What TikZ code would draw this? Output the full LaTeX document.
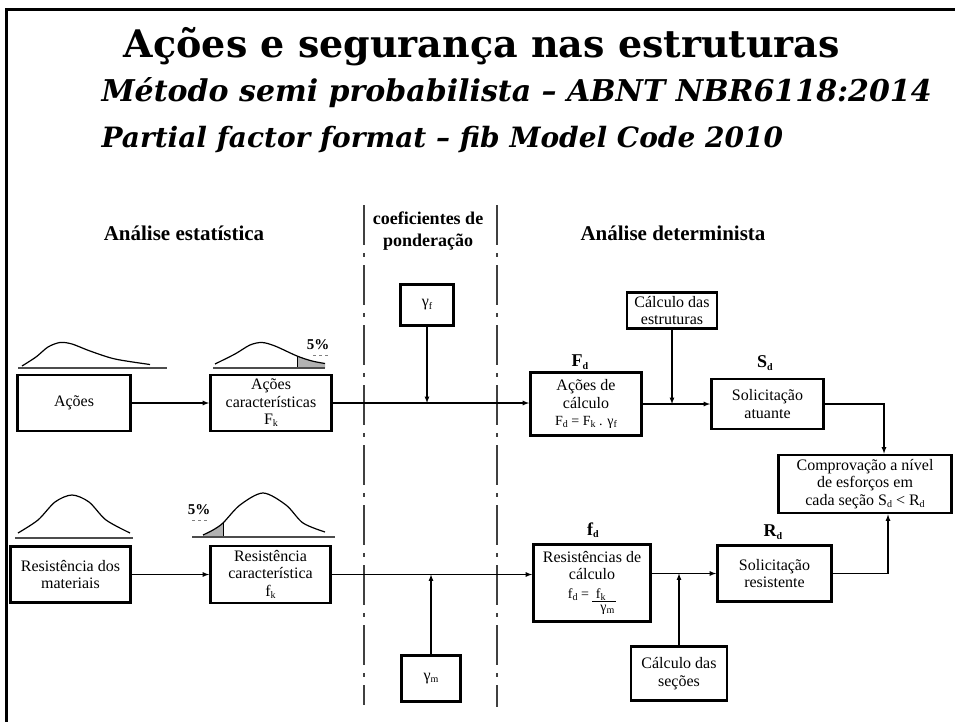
\documentclass[tikz,border=0pt]{standalone}
\usepackage{fontspec}
\setmainfont{Liberation Serif}
\newfontfamily\titlefont{DejaVu Serif}
\usepackage{tikz}
\usetikzlibrary{shapes,arrows,positioning,fit,backgrounds}

\newcommand{\lowsub}[1]{\raisebox{-0.3ex}{\fontsize{10}{10}\selectfont #1}}

\tikzset{
  caixa/.style={draw, line width=2.8pt, fill=white, align=center, inner sep=1pt,
    font=\fontsize{16}{17.5}\selectfont},
  liga/.style={line width=1.2pt, -latex},
  divisa/.style={line width=1.8pt, black!75, dash pattern=on 40pt off 8pt on 4pt off 8pt},
  cabeca/.style={font=\bfseries\fontsize{21}{22}\selectfont, align=center},
  grandeza/.style={font=\bfseries\fontsize{18}{20}\selectfont},
  curva/.style={line width=1.2pt},
  base/.style={line width=1.6pt, black!70},
}

\begin{document}
\begin{tikzpicture}[x=1pt,y=-1pt]
  \useasboundingbox (0,0) rectangle (955,722);

  % frame and title
  \draw[line width=3pt] (6,722) -- (6,10) -- (955,10);
  \node[anchor=base, font=\titlefont\bfseries\fontsize{38}{40}\selectfont] (titulo) at (482,58)
    {Ações e segurança nas estruturas};
  \node[anchor=base west, font=\titlefont\bfseries\itshape\fontsize{30}{30}\selectfont] (sub1) at (98,102)
    {Método semi probabilista – ABNT NBR6118:2014};
  \node[anchor=base west, font=\titlefont\bfseries\itshape\fontsize{28}{30}\selectfont] (sub2) at (98,148)
    {Partial factor format – fib Model Code 2010};

  % columns
  \draw[divisa] (364,205) -- (364,705);
  \draw[divisa] (497,205) -- (497,707);
  \node[cabeca] (estat) at (184,233) {Análise estatística};
  \node[cabeca, font=\bfseries\fontsize{18}{22}\selectfont] (coef) at (428,231) {coeficientes de\\ponderação};
  \node[cabeca] (determ) at (673,233) {Análise determinista};

  % distribution curves
  \draw[base] (18,368) -- (167,368);
  \draw[curva] plot[smooth] coordinates {(22,366) (36,357) (48,347) (60,342.5) (72,344) (90,351) (115,359) (150,364.5)};

  \fill[gray!60] plot[smooth] coordinates {(297,356) (312,361) (325,363.5)} -- (325,368) -- (297,368) -- cycle;
  \draw[line width=0.8pt] (297,356) -- (297,368);
  \draw[base] (213,368) -- (325,368);
  \draw[curva] plot[smooth] coordinates {(215,364) (235,354) (250,345) (262,342.5) (275,346) (297,356) (312,361) (325,363.5)};
  \node[font=\bfseries\fontsize{15}{15}\selectfont] (cinco1) at (318,345) {5\%};
  \draw[gray, dashed, line width=0.6pt] (313,355) -- (330,355);

  \draw[base] (15,538) -- (133,538);
  \draw[curva] plot[smooth] coordinates {(18,533) (38,520) (55,502) (72,495) (89,502) (106,520) (130,533)};

  \fill[gray!60] plot[smooth] coordinates {(203,535) (213,530) (223,523)} -- (223,537) -- (203,537) -- cycle;
  \draw[line width=0.8pt] (223,523) -- (223,537);
  \draw[base] (192,537) -- (335,537);
  \draw[curva] plot[smooth] coordinates {(203,535) (213,530) (223,523) (240,505) (263,493) (286,505) (303,523) (325,532)};
  \node[font=\bfseries\fontsize{15}{15}\selectfont] (cinco2) at (199,510) {5\%};
  \draw[gray, dashed, line width=0.6pt] (192,520) -- (210,520);

  % upper chain
  \node[caixa, minimum width=113, minimum height=56] (acoes) at (74,403) {Ações};
  \node[caixa, minimum width=121, minimum height=56] (acoesk) at (271,403)
    {Ações\\características\\F\lowsub{k}};
  \node[caixa, minimum width=53, minimum height=41] (gf) at (427,305) {γ\lowsub{f}};
  \node[caixa, minimum width=111, minimum height=63] (acoesd) at (586,404)
    {Ações de\\cálculo\\{\fontsize{14}{16}\selectfont F\lowsub{d} = F\lowsub{k} . γ\lowsub{f}}};
  \node[caixa, minimum width=90, minimum height=36] (calcest) at (672,310.5) {Cálculo das\\estruturas};
  \node[caixa, minimum width=112, minimum height=50] (solat) at (767.5,404) {Solicitação\\atuante};
  \node[caixa, minimum width=173, minimum height=58, inner sep=2pt] (comp) at (865,484)
    {Comprovação a nível\\de esforços em\\cada seção S\lowsub{d} < R\lowsub{d}};
  \node[grandeza] (Fd) at (580,362) {F\lowsub{d}};
  \node[grandeza] (Sd) at (765,363) {S\lowsub{d}};

  % lower chain
  \node[caixa, minimum width=120, minimum height=56] (resmat) at (70.5,574.5) {Resistência dos\\materiais};
  \node[caixa, minimum width=120, minimum height=57] (resk) at (270.5,574.5)
    {Resistência\\característica\\f\lowsub{k}};
  \node[caixa, minimum width=59, minimum height=46] (gm) at (431,678.5) {γ\lowsub{m}};
  \node[caixa, minimum width=117, minimum height=77] (resd) at (592,583)
    {Resistências de\\cálculo\\[1pt]{\fontsize{14}{15}\selectfont f\lowsub{d} = \underline{\ f\lowsub{k}\ \ \ }}\\[-4pt]
     {\fontsize{14}{15}\selectfont\hspace{2.2em}γ\lowsub{m}}};
  \node[caixa, minimum width=96, minimum height=54] (calcsec) at (679,673.5) {Cálculo das\\seções};
  \node[caixa, minimum width=114, minimum height=56] (solres) at (774.5,573.5) {Solicitação\\resistente};
  \node[grandeza] (fd) at (593,530) {f\lowsub{d}};
  \node[grandeza] (Rd) at (773,532) {R\lowsub{d}};

  % connectors
  \coordinate (gfin) at (gf |- acoesk.east);
  \coordinate (estin) at (calcest.south |- acoesd.east);
  \coordinate (gmin) at (gm |- resk.east);
  \coordinate (secin) at (calcsec.north |- solres.west);
  \draw[liga] (acoes) -- (acoesk);
  \draw[liga] (acoesk.east) -- (acoesk.east -| acoesd.west);
  \draw[liga] (gf) -- (gfin);
  \draw[liga] (acoesd) -- (solat);
  \draw[liga] (calcest) -- (estin);
  \draw[liga] (solat.east) -| ([xshift=19pt]comp.north);
  \draw[liga] (resmat) -- (resk);
  \draw[liga] (resk.east) -- (resk.east -| resd.west);
  \draw[liga] (gm) -- (gmin);
  \draw[liga] (solres.west -| resd.east) -- (solres.west);
  \draw[liga] (calcsec) -- (secin);
  \draw[liga] (solres.east) -| ([xshift=23pt]comp.south);
\end{tikzpicture}
\end{document}
